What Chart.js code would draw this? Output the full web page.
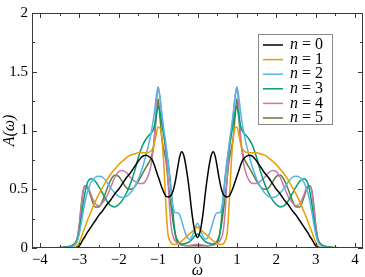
<!DOCTYPE html>
<html><head><meta charset="utf-8">
<script src="https://cdn.jsdelivr.net/npm/chart.js@4/dist/chart.umd.min.js"></script>
<style>html,body{margin:0;padding:0;background:#fff}canvas{display:block}</style>
</head><body>
<canvas id="c" width="365" height="277"></canvas>
<script>
// ω grid (shared by all series)
const omega = [-4.2,-3.5,-3.35,-3.2,-3.1,-3.05,-3.0,-2.95,-2.9,-2.85,-2.8,-2.75,-2.7,-2.6,-2.5,-2.4,-2.3,-2.2,-2.1,-2.0,-1.9,-1.8,-1.7,-1.6,-1.5,-1.4,-1.3,-1.2,-1.15,-1.1,-1.05,-1.0,-0.95,-0.9,-0.85,-0.8,-0.75,-0.7,-0.65,-0.6,-0.55,-0.5,-0.45,-0.4,-0.35,-0.3,-0.25,-0.2,-0.15,-0.1,-0.05,
  0,0.05,0.1,0.15,0.2,0.25,0.3,0.35,0.4,0.45,0.5,0.55,0.6,0.65,0.7,0.75,0.8,0.85,0.9,0.95,1.0,1.05,1.1,1.15,1.2,1.3,1.4,1.5,1.6,1.7,1.8,1.9,2.0,2.1,2.2,2.3,2.4,2.5,2.6,2.7,2.75,2.8,2.85,2.9,2.95,3.0,3.05,3.1,3.2,3.35,3.5,4.2];

const A_n0 = [0,0,0,0,0.002,0.007,0.02,0.045,0.075,0.1,0.13,0.155,0.18,0.23,0.28,0.32,0.37,0.41,0.46,0.5,0.55,0.6,0.64,0.69,0.74,0.78,0.79,0.77,0.75,0.71,0.66,0.61,0.56,0.51,0.47,0.44,0.435,0.44,0.46,0.51,0.59,0.69,0.78,0.82,0.79,0.71,0.6,0.47,0.32,0.2,0.12,
  0.09,0.12,0.2,0.32,0.47,0.6,0.71,0.79,0.82,0.78,0.69,0.59,0.51,0.46,0.44,0.435,0.44,0.47,0.51,0.56,0.61,0.66,0.71,0.75,0.77,0.79,0.78,0.74,0.69,0.64,0.6,0.55,0.5,0.46,0.41,0.37,0.32,0.28,0.23,0.18,0.155,0.13,0.1,0.075,0.045,0.02,0.007,0.002,0,0,0,0];
const A_n1 = [0,0,0,0.002,0.008,0.02,0.05,0.09,0.14,0.18,0.23,0.27,0.31,0.39,0.46,0.52,0.58,0.63,0.67,0.71,0.74,0.77,0.79,0.8,0.81,0.81,0.81,0.82,0.84,0.88,0.96,1.03,1.02,0.92,0.68,0.35,0.12,0.06,0.035,0.03,0.032,0.038,0.048,0.06,0.075,0.09,0.105,0.12,0.135,0.15,0.165,
  0.18,0.165,0.15,0.135,0.12,0.105,0.09,0.075,0.06,0.048,0.038,0.032,0.03,0.035,0.06,0.12,0.35,0.68,0.92,1.02,1.03,0.96,0.88,0.84,0.82,0.81,0.81,0.81,0.8,0.79,0.77,0.74,0.71,0.67,0.63,0.58,0.52,0.46,0.39,0.31,0.27,0.23,0.18,0.14,0.09,0.05,0.02,0.008,0.002,0,0,0];
const A_n2 = [0,0,0.003,0.01,0.03,0.06,0.12,0.21,0.31,0.4,0.47,0.52,0.56,0.6,0.61,0.6,0.56,0.51,0.47,0.44,0.43,0.44,0.47,0.52,0.59,0.68,0.8,0.94,1.03,1.14,1.28,1.37,1.28,1.13,1.0,0.88,0.74,0.58,0.42,0.32,0.3,0.3,0.28,0.23,0.17,0.12,0.085,0.075,0.09,0.13,0.18,
  0.21,0.18,0.13,0.09,0.075,0.085,0.12,0.17,0.23,0.28,0.3,0.3,0.32,0.42,0.58,0.74,0.88,1.0,1.13,1.28,1.37,1.28,1.14,1.03,0.94,0.8,0.68,0.59,0.52,0.47,0.44,0.43,0.44,0.47,0.51,0.56,0.6,0.61,0.6,0.56,0.52,0.47,0.4,0.31,0.21,0.12,0.06,0.03,0.01,0.003,0,0];
const A_n3 = [0,0.002,0.005,0.015,0.035,0.07,0.14,0.26,0.38,0.48,0.55,0.58,0.59,0.57,0.52,0.46,0.4,0.36,0.35,0.37,0.41,0.47,0.55,0.65,0.77,0.87,0.93,0.97,0.99,1.03,1.12,1.21,1.15,1.05,0.95,0.85,0.74,0.6,0.42,0.22,0.09,0.05,0.04,0.035,0.035,0.04,0.045,0.055,0.07,0.09,0.11,
  0.12,0.11,0.09,0.07,0.055,0.045,0.04,0.035,0.035,0.04,0.05,0.09,0.22,0.42,0.6,0.74,0.85,0.95,1.05,1.15,1.21,1.12,1.03,0.99,0.97,0.93,0.87,0.77,0.65,0.55,0.47,0.41,0.37,0.35,0.36,0.4,0.46,0.52,0.57,0.59,0.58,0.55,0.48,0.38,0.26,0.14,0.07,0.035,0.015,0.005,0.002,0];
const A_n4 = [0,0.002,0.005,0.015,0.035,0.08,0.18,0.35,0.48,0.53,0.53,0.5,0.45,0.38,0.36,0.39,0.44,0.52,0.6,0.65,0.66,0.64,0.6,0.57,0.55,0.55,0.58,0.67,0.77,0.93,1.18,1.37,1.27,1.1,0.95,0.8,0.58,0.3,0.14,0.08,0.055,0.04,0.03,0.025,0.022,0.02,0.02,0.022,0.025,0.028,0.03,
  0.03,0.03,0.028,0.025,0.022,0.02,0.02,0.022,0.025,0.03,0.04,0.055,0.08,0.14,0.3,0.58,0.8,0.95,1.1,1.27,1.37,1.18,0.93,0.77,0.67,0.58,0.55,0.55,0.57,0.6,0.64,0.66,0.65,0.6,0.52,0.44,0.39,0.36,0.38,0.45,0.5,0.53,0.53,0.48,0.35,0.18,0.08,0.035,0.015,0.005,0.002,0];
const A_n5 = [0,0.004,0.01,0.02,0.045,0.09,0.2,0.37,0.49,0.53,0.52,0.48,0.43,0.35,0.35,0.41,0.5,0.58,0.62,0.61,0.56,0.51,0.5,0.52,0.57,0.63,0.69,0.75,0.8,0.9,1.1,1.27,1.1,0.92,0.83,0.74,0.58,0.43,0.3,0.18,0.1,0.06,0.04,0.03,0.025,0.022,0.02,0.02,0.02,0.02,0.02,
  0.02,0.02,0.02,0.02,0.02,0.02,0.022,0.025,0.03,0.04,0.06,0.1,0.18,0.3,0.43,0.58,0.74,0.83,0.92,1.1,1.27,1.1,0.9,0.8,0.75,0.69,0.63,0.57,0.52,0.5,0.51,0.56,0.61,0.62,0.58,0.5,0.41,0.35,0.35,0.43,0.48,0.52,0.53,0.49,0.37,0.2,0.09,0.045,0.02,0.01,0.004,0];

const seriesN = ['0','1','2','3','4','5'];
const seriesValues = [A_n0, A_n1, A_n2, A_n3, A_n4, A_n5];
const seriesColors = ['#000000','#E69F00','#56B4E9','#009E73','#CC79A7','#5C7D3B'];

const xTicks = [-4,-3,-2,-1,0,1,2,3,4];
const xMinorTicks = [-3.5,-2.5,-1.5,-0.5,0.5,1.5,2.5,3.5];
const yTicks = [0,0.5,1,1.5,2];
const yMinorTicks = [0.25,0.75,1.25,1.75];

const SERIF = '"Liberation Serif", "DejaVu Serif", serif';
const FS = 15;

const datasets = seriesValues.map((vals, k) => ({
  label: 'n = ' + seriesN[k],
  data: omega.map((w, i) => ({x: w, y: vals[i]})),
  borderColor: seriesColors[k],
  borderWidth: 1.5,
  pointRadius: 0,
  fill: false,
  cubicInterpolationMode: 'monotone'
}));

const fmt = v => (v < 0 ? '\u2212' + Math.abs(v) : String(v));

const framePlugin = {
  id: 'frameTicks',
  afterDatasetsDraw(chart) {
    const {ctx, chartArea: a, scales: {x, y}} = chart;
    ctx.save();
    ctx.strokeStyle = '#3a3a3a';
    ctx.lineWidth = 1;
    ctx.strokeRect(Math.round(a.left) + 0.5, Math.round(a.top) + 0.5,
      Math.round(a.right - a.left) - 1, Math.round(a.bottom - a.top) - 1);
    ctx.beginPath();
    const xt = (v, len) => {
      const p = Math.round(x.getPixelForValue(v)) + 0.5;
      ctx.moveTo(p, a.bottom); ctx.lineTo(p, a.bottom - len);
      ctx.moveTo(p, a.top); ctx.lineTo(p, a.top + len);
    };
    const yt = (v, len) => {
      const p = Math.round(y.getPixelForValue(v)) + 0.5;
      ctx.moveTo(a.left, p); ctx.lineTo(a.left + len, p);
      ctx.moveTo(a.right, p); ctx.lineTo(a.right - len, p);
    };
    xTicks.forEach(v => xt(v, 5));
    xMinorTicks.forEach(v => xt(v, 3));
    yTicks.forEach(v => yt(v, 5));
    yMinorTicks.forEach(v => yt(v, 3));
    ctx.stroke();

    // legend box
    const L = a.right - 105, T = a.top + 21, W = 74, H = 90;
    ctx.fillStyle = '#fff';
    ctx.fillRect(L, T, W, H);
    ctx.strokeStyle = '#8a8a8a';
    ctx.strokeRect(L + 0.5, T + 0.5, W, H);
    ctx.textBaseline = 'middle';
    chart.data.datasets.forEach((ds, i) => {
      const cy = T + 11 + i * 14.6;
      ctx.strokeStyle = ds.borderColor;
      ctx.lineWidth = 1.5;
      ctx.beginPath();
      ctx.moveTo(L + 5, cy); ctx.lineTo(L + 25, cy);
      ctx.stroke();
      ctx.fillStyle = '#000';
      ctx.font = 'italic ' + (FS + 1) + 'px ' + SERIF;
      ctx.fillText('n', L + 32, cy);
      const wn = ctx.measureText('n').width;
      ctx.font = (FS + 1) + 'px ' + SERIF;
      ctx.fillText(' = ' + seriesN[i], L + 32 + wn, cy);
    });
    ctx.restore();
  }
};

new Chart(document.getElementById('c'), {
  type: 'line',
  data: {datasets},
  options: {
    responsive: false,
    animation: false,
    events: [],
    layout: {padding: {top: 7, right: 2, left: 0, bottom: 0}},
    plugins: {legend: {display: false}, tooltip: {enabled: false}},
    scales: {
      x: {
        type: 'linear', min: -4.2, max: 4.2,
        grid: {display: false, drawTicks: false},
        border: {display: false},
        afterBuildTicks: s => { s.ticks = xTicks.map(v => ({value: v})); },
        afterFit: s => { s.height = 29; },
        ticks: {color: '#000', padding: 3, maxRotation: 0, autoSkip: false,
          font: {family: SERIF, size: FS}, callback: v => fmt(v)},
        title: {display: true, text: 'ω', color: '#000', padding: {top: 0, bottom: 0},
          font: {family: SERIF, size: FS + 1, style: 'italic', lineHeight: 0.8}}
      },
      y: {
        type: 'linear', min: 0, max: 2,
        grid: {display: false, drawTicks: false},
        border: {display: false},
        afterBuildTicks: s => { s.ticks = yTicks.map(v => ({value: v})); },
        afterFit: s => { s.width = 32; },
        ticks: {color: '#000', padding: 4, autoSkip: false,
          font: {family: SERIF, size: FS}, callback: v => fmt(v)},
        title: {display: true, text: 'A(ω)', color: '#000', padding: {top: 0, bottom: 0},
          font: {family: SERIF, size: FS + 1, style: 'italic', lineHeight: 1.2}}
      }
    }
  },
  plugins: [framePlugin]
});
</script>
</body></html>
